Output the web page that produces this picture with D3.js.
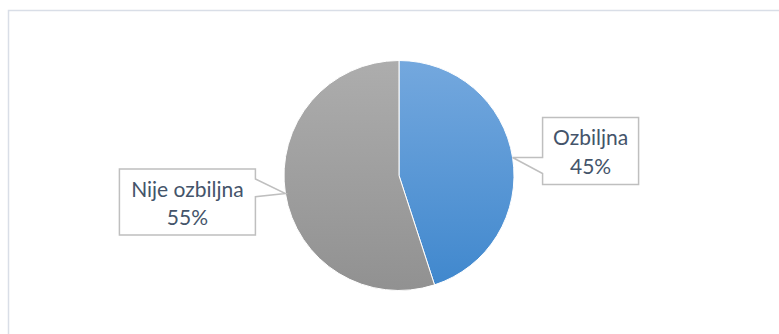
<!DOCTYPE html>
<html>
<head>
<meta charset="utf-8">
<script src="https://cdn.jsdelivr.net/npm/d3@7"></script>
<style>
  html, body { margin: 0; padding: 0; background: #fff; }
  svg { display: block; }
</style>
</head>
<body>
<svg id="chart" width="779" height="334"></svg>
<script>
// Data
const categories = ["Ozbiljna", "Nije ozbiljna"];
const values = [45, 55];
const percentLabels = ["45%", "55%"];

const W = 779, H = 334;
const svg = d3.select("#chart");

// Chart frame (extends past the right and bottom edges)
svg.append("rect")
  .attr("x", 8.5).attr("y", 10.5)
  .attr("width", 800).attr("height", 400)
  .attr("fill", "#fff")
  .attr("stroke", "#d9dee7")
  .attr("stroke-width", 1.5);

const cx = 399, cy = 175.5, R = 115;

// Vertical gradients for each slice (in the slice group's local coordinates)
const defs = svg.append("defs");
const gradStops = [
  ["#74a8de", "#3f87cd"],
  ["#adadad", "#919191"]
];
categories.forEach((c, i) => {
  const g = defs.append("linearGradient")
    .attr("id", "grad" + i)
    .attr("gradientUnits", "userSpaceOnUse")
    .attr("x1", 0).attr("y1", -R)
    .attr("x2", 0).attr("y2", R);
  g.append("stop").attr("offset", "0%").attr("stop-color", gradStops[i][0]);
  g.append("stop").attr("offset", "100%").attr("stop-color", gradStops[i][1]);
});

const pie = d3.pie().sort(null).value(d => d)(values);
const arc = d3.arc().innerRadius(0).outerRadius(R);

const g = svg.append("g").attr("transform", `translate(${cx},${cy})`);
g.selectAll("path.slice")
  .data(pie)
  .join("path")
  .attr("class", "slice")
  .attr("d", arc)
  .attr("fill", (d, i) => `url(#grad${i})`)
  .attr("stroke", "#fff")
  .attr("stroke-width", 1);

// Callout boxes: box geometry relative to the tip on the slice edge
const callouts = [
  { dx: 30, boxTop: -40, w: 96, h: 67, side: "left", b1: 0, b2: 16 },
  { dx: -30, boxTop: -24.5, w: 136, h: 66, side: "right", b1: 10, b2: 27.7 }
];

pie.forEach((d, i) => {
  const mid = (d.startAngle + d.endAngle) / 2;
  const tx = cx + R * Math.sin(mid);
  const ty = cy - R * Math.cos(mid);
  const c = callouts[i];
  const y0 = ty + c.boxTop;
  const x0 = c.side === "left" ? tx + c.dx : tx + c.dx - c.w;
  const by1 = c.side === "left" ? ty : y0 + c.b1;
  const by2 = c.side === "left" ? ty + c.b2 : y0 + c.b2;
  const x1 = x0 + c.w, y1 = y0 + c.h;
  let path;
  if (c.side === "left") {
    path = `M${x0},${y0} L${x1},${y0} L${x1},${y1} L${x0},${y1} L${x0},${by2} L${tx},${ty} L${x0},${by1} Z`;
  } else {
    path = `M${x0},${y0} L${x1},${y0} L${x1},${by1} L${tx},${ty} L${x1},${by2} L${x1},${y1} L${x0},${y1} Z`;
  }
  svg.append("path")
    .attr("d", path)
    .attr("fill", "#fff")
    .attr("stroke", "#bfbfbf")
    .attr("stroke-width", 1.5)
    .attr("stroke-linejoin", "miter");

  const t = svg.append("text")
    .attr("text-anchor", "middle")
    .attr("font-family", "Lato, 'Open Sans', sans-serif")
    .attr("font-size", 21)
    .attr("fill", "#44546a");
  t.append("tspan").attr("x", (x0 + x1) / 2).attr("y", y0 + 27.7).text(categories[i]);
  t.append("tspan").attr("x", (x0 + x1) / 2).attr("y", y0 + 56.2).text(percentLabels[i]);
});
</script>
</body>
</html>
